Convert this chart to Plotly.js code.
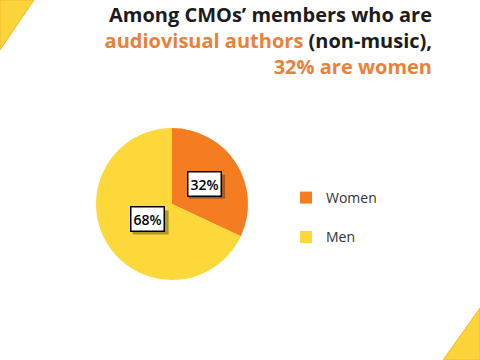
<!DOCTYPE html>
<html><head><meta charset="utf-8">
<script src="https://cdn.plot.ly/plotly-3.0.1.min.js"></script>
<style>html,body{margin:0;padding:0;background:#fff}#chart{width:480px;height:360px}</style>
</head><body><div id="chart"></div>
<script>
const categories = ["Women", "Men"];
const shares = [32, 68];
const colors = ["#F47D22", "#FDD83A"];

const W = 480, H = 360;
const cx = 172, cy = 204, R = 76;
const dom = {x: [(cx - R) / W, (cx + R) / W], y: [1 - (cy + R) / H, 1 - (cy - R) / H]};

const total = shares.reduce((a, b) => a + b, 0);
const labelFrac = [0.5, 0.38];
const annotations = [];
const shadows = [];
let cum = 0;
shares.forEach((v, i) => {
  const mid = (cum + v / 2) / total * 2 * Math.PI;
  cum += v;
  const px = cx + labelFrac[i] * R * Math.sin(mid);
  const py = cy - labelFrac[i] * R * Math.cos(mid);
  annotations.push({x: px / W, y: 1 - py / H, xref: 'paper', yref: 'paper', showarrow: false,
    xanchor: 'center', yanchor: 'middle',
    text: v + '%', font: {family: 'Open Sans, sans-serif', size: 14, color: '#000', weight: 600}, borderpad: 2,
    bgcolor: '#fff', bordercolor: '#000', borderwidth: 1.5});
  const hw = 18, hh = 12, off = 3;
  shadows.push({type: 'rect', xref: 'paper', yref: 'paper', layer: 'above',
    x0: (px - hw + off) / W, x1: (px + hw + off) / W, y0: 1 - (py + hh + off) / H, y1: 1 - (py - hh + off) / H,
    fillcolor: 'rgba(0,0,0,0.3)', line: {width: 0}});
});

const trace = {
  type: 'pie',
  labels: categories.map(c => c + '<br>&nbsp;'),
  values: shares,
  sort: false,
  direction: 'clockwise',
  rotation: 0,
  textinfo: 'none',
  hoverinfo: 'label+percent',
  marker: {colors: colors, line: {width: 0}},
  domain: dom
};

const layout = {
  width: W, height: H,
  margin: {l: 0, r: 0, t: 0, b: 0},
  paper_bgcolor: '#fff',
  showlegend: true,
  legend: {x: 286 / W, y: 1 - 182 / H, xanchor: 'left', yanchor: 'top', valign: 'top',
    font: {family: 'Open Sans, sans-serif', size: 14, color: '#333'}, itemwidth: 30},
  title: {
    text: 'Among CMOs\u2019 members who are<br><span style="color:#E9813A">audiovisual authors</span> (non-music),<br><span style="color:#E9813A">32% are women</span>',
    x: 432 / W, xanchor: 'right', xref: 'container',
    y: 0.94, yanchor: 'top', yref: 'container',
    font: {family: 'Open Sans, sans-serif', size: 20, color: '#1c1c1c', weight: 700}
  },
  annotations: annotations,
  shapes: [
    {type: 'path', xref: 'paper', yref: 'paper', path: 'M 0 1 L ' + (34 / W) + ' 1 L 0 ' + (1 - 50 / H) + ' Z', fillcolor: '#FCD43A', line: {color: '#F5B731', width: 1}},
    {type: 'path', xref: 'paper', yref: 'paper', path: 'M 1 ' + (1 - 308 / H) + ' L 1 0 L ' + (443 / W) + ' 0 Z', fillcolor: '#FCD43A', line: {color: '#F5B731', width: 1}}
  ].concat(shadows)
};

Plotly.newPlot('chart', [trace], layout, {displayModeBar: false, staticPlot: true});
</script></body></html>
